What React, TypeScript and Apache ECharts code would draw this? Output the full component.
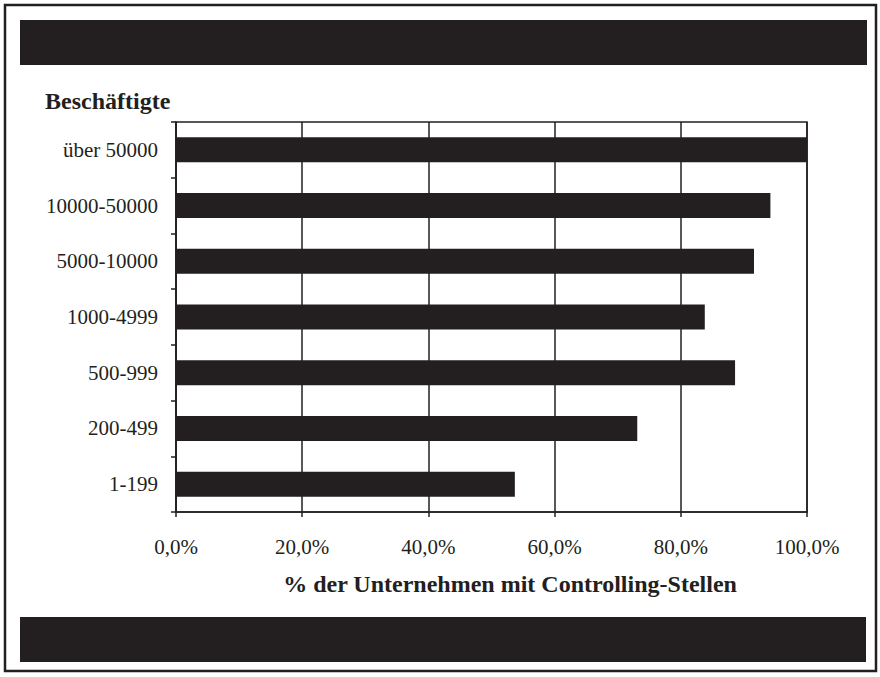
import React, { useEffect, useRef } from "react";
import * as echarts from "echarts";

const categories = ["über 50000", "10000-50000", "5000-10000", "1000-4999", "500-999", "200-499", "1-199"];
const values = [100, 94.2, 91.6, 83.8, 88.6, 73.1, 53.7];
const xTicks = { min: 0, max: 100, interval: 20 };
const yTitle = "Beschäftigte";
const xTitle = "% der Unternehmen mit Controlling-Stellen";

const INK = "#231f20";
const FONT = "'Liberation Serif', 'Times New Roman', serif";

export default function App() {
  const ref = useRef<HTMLDivElement>(null);
  useEffect(() => {
    document.body.style.margin = "0";
    const chart = echarts.init(ref.current!, null, { renderer: "svg" });
    chart.setOption({
      animation: false,
      backgroundColor: "#ffffff",
      grid: {
        left: 176,
        right: 73,
        top: 122,
        bottom: 165,
        show: true,
        borderColor: INK,
        borderWidth: 1.5,
        containLabel: false,
      },
      xAxis: {
        type: "value",
        min: xTicks.min,
        max: xTicks.max,
        interval: xTicks.interval,
        axisLine: { show: true, lineStyle: { color: INK, width: 1.5 } },
        axisTick: { show: true, length: 5, lineStyle: { color: INK, width: 1.5 } },
        splitLine: { show: true, lineStyle: { color: INK, width: 1.5, type: "solid" } },
        axisLabel: {
          color: INK,
          fontFamily: FONT,
          fontSize: 21,
          margin: 24,
          formatter: (v: number) => v.toFixed(1).replace(".", ",") + "%",
        },
      },
      yAxis: {
        type: "category",
        data: categories,
        inverse: true,
        axisLine: { show: true, lineStyle: { color: INK, width: 1.5 } },
        axisTick: { show: true, length: 5, inside: false, lineStyle: { color: INK, width: 1.5 } },
        axisLabel: { color: INK, fontFamily: FONT, fontSize: 21, margin: 18 },
        splitLine: { show: false },
      },
      series: [
        {
          type: "bar",
          data: values,
          barWidth: 25,
          itemStyle: { color: INK },
        },
      ],
      graphic: [
        {
          type: "rect",
          shape: { x: 5, y: 5, width: 871, height: 666 },
          style: { fill: "none", stroke: INK, lineWidth: 2.5 },
          silent: true,
        },
        {
          type: "rect",
          shape: { x: 20, y: 20, width: 847, height: 45 },
          style: { fill: INK },
          silent: true,
        },
        {
          type: "rect",
          shape: { x: 20, y: 617, width: 846, height: 45 },
          style: { fill: INK },
          silent: true,
        },
        {
          type: "text",
          x: 45,
          y: 101,
          style: {
            text: yTitle,
            fill: INK,
            font: `bold 24px ${FONT}`,
            textAlign: "left",
            textVerticalAlign: "middle",
          },
        },
        {
          type: "text",
          x: 510,
          y: 584,
          style: {
            text: xTitle,
            fill: INK,
            font: `bold 24px ${FONT}`,
            textAlign: "center",
            textVerticalAlign: "middle",
          },
        },
      ],
    });
    return () => chart.dispose();
  }, []);
  return <div ref={ref} style={{ width: 880, height: 677 }} />;
}
